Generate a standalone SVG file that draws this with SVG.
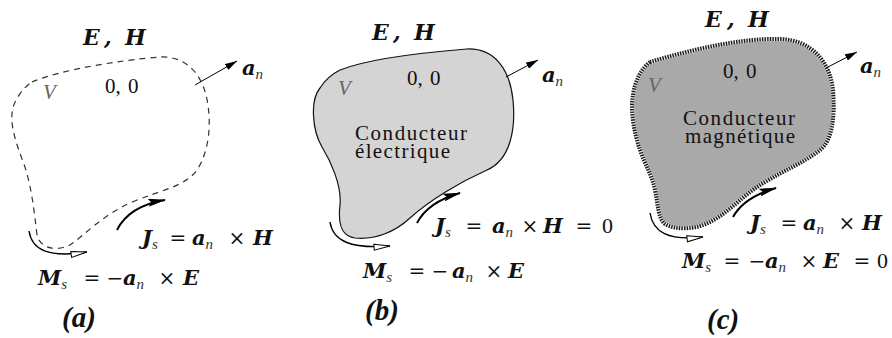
<svg xmlns="http://www.w3.org/2000/svg" width="892" height="338" viewBox="0 0 892 338">
<defs>
<style>
text{fill:#111;font-family:"Liberation Serif",serif}
.m{font-family:"DejaVu Serif",serif;font-weight:bold;font-style:italic;font-size:21px}
.eh{font-family:"DejaVu Serif",serif;font-weight:bold;font-style:italic;font-size:22px}
.sb{font-family:"Liberation Serif",serif;font-style:italic;font-size:15px;fill:#333}
.op{font-family:"DejaVu Serif",serif;font-size:20px}
.z{font-family:"Liberation Serif",serif;font-size:22px}
.num{font-size:21px}
.v{font-style:italic;font-size:21px;fill:#666}
.lbl{font-size:21px}
.cap{font-weight:bold;font-style:italic;font-size:29px}
.ln{fill:none;stroke:#000;stroke-width:2}
.thin{fill:none;stroke:#000;stroke-width:1}
.open{fill:none;stroke:#000;stroke-width:1.4}
</style>
<marker id="ah" viewBox="0 0 18 8" refX="17" refY="4" markerWidth="18" markerHeight="8" markerUnits="userSpaceOnUse" orient="auto">
<path d="M0,0 L18,4 L0,8 L3,4 z" fill="#000"/>
</marker>
<marker id="ao" viewBox="0 0 18 8" refX="17" refY="4" markerWidth="18" markerHeight="8" markerUnits="userSpaceOnUse" orient="auto">
<path d="M1,1 L17,4 L1,7 z" fill="#fff" stroke="#000" stroke-width="1"/>
</marker>
<marker id="as" viewBox="0 0 12 7" refX="12" refY="3.5" markerWidth="12" markerHeight="7" markerUnits="userSpaceOnUse" orient="auto">
<path d="M0,0 L12,3.5 L0,7 z" fill="#000"/>
</marker>
</defs>
<rect width="892" height="338" fill="#fff"/>

<g id="panel-a">
<path d="M32,82 C60,70 120,60 160,57 C185,56 200,72 206,95 C212,120 210,150 197,170 C185,187 160,190 130,203 C100,217 85,235 70,245 C55,252 40,248 37,235 C34,210 32,190 25,167 C15,140 5,115 18,97 C22,90 27,85 32,82 Z" fill="none" stroke="#333" stroke-width="1.2" stroke-dasharray="6 5"/>
<text class="eh" y="45"><tspan x="83">E</tspan><tspan x="104">,</tspan><tspan x="125">H</tspan></text>
<text class="num" y="93"><tspan x="105">0,</tspan><tspan x="128">0</tspan></text>
<text class="v" x="43" y="99">V</text>
<text y="75"><tspan class="m" x="242">a</tspan><tspan class="sb" dy="4">n</tspan></text>
<text y="245"><tspan class="m" x="142">J</tspan><tspan class="sb" dy="4">s</tspan><tspan class="op" x="178" dy="-4" text-anchor="middle">=</tspan><tspan class="m" x="192">a</tspan><tspan class="sb" dy="4">n</tspan><tspan class="op" x="237" dy="-4" text-anchor="middle">×</tspan><tspan class="m" x="253">H</tspan></text>
<text y="285"><tspan class="m" x="38">M</tspan><tspan class="sb" dy="4">s</tspan><tspan class="op" x="92" dy="-4" text-anchor="middle">=</tspan><tspan class="op" x="115" text-anchor="middle">−</tspan><tspan class="m" x="123">a</tspan><tspan class="sb" dy="4">n</tspan><tspan class="op" x="167" dy="-4" text-anchor="middle">×</tspan><tspan class="m" x="183">E</tspan></text>
<text class="cap" x="62" y="327">(a)</text>
</g>

<g id="panel-b">
<path d="M340,70 C370,58 430,52 467,49 C495,48 510,70 513,100 C516,130 510,160 487,170 C460,182 430,200 410,218 C395,232 375,240 355,238 C340,236 338,222 340,205 C342,185 330,160 322,147 C312,130 310,100 320,88 C325,80 332,74 340,70 Z" fill="#d4d4d4" stroke="#111" stroke-width="1.2"/>
<text class="eh" y="40"><tspan x="372">E</tspan><tspan x="393">,</tspan><tspan x="414">H</tspan></text>
<text class="num" y="85"><tspan x="407">0,</tspan><tspan x="430">0</tspan></text>
<text class="v" x="338" y="95">V</text>
<text y="82"><tspan class="m" x="542">a</tspan><tspan class="sb" dy="4">n</tspan></text>
<text class="lbl" x="355" y="140" textLength="112">Conducteur</text>
<text class="lbl" x="355" y="158" textLength="95">électrique</text>
<text y="233"><tspan class="m" x="435">J</tspan><tspan class="sb" dy="4">s</tspan><tspan class="op" x="474" dy="-4" text-anchor="middle">=</tspan><tspan class="m" x="492">a</tspan><tspan class="sb" dy="4">n</tspan><tspan class="op" x="530" dy="-4" text-anchor="middle">×</tspan><tspan class="m" x="543">H</tspan><tspan class="op" x="584" text-anchor="middle">=</tspan><tspan class="z" x="602">0</tspan></text>
<text y="278"><tspan class="m" x="363">M</tspan><tspan class="sb" dy="4">s</tspan><tspan class="op" x="417" dy="-4" text-anchor="middle">=</tspan><tspan class="op" x="440" text-anchor="middle">−</tspan><tspan class="m" x="452">a</tspan><tspan class="sb" dy="4">n</tspan><tspan class="op" x="494" dy="-4" text-anchor="middle">×</tspan><tspan class="m" x="508">E</tspan></text>
<text class="cap" x="365" y="320">(b)</text>
</g>

<g id="panel-c">
<path d="M650,62 C690,50 740,38 780,39 C812,40 830,62 833,90 C835,115 833,140 820,150 C805,162 785,170 765,182 C745,193 730,212 710,222 C695,230 675,230 665,224 C658,218 658,205 655,190 C652,175 645,165 640,150 C634,133 630,110 633,95 C635,80 642,68 650,62 Z" fill="#a9a9a9" stroke="#ececec" stroke-width="4"/>
<path d="M650,62 C690,50 740,38 780,39 C812,40 830,62 833,90 C835,115 833,140 820,150 C805,162 785,170 765,182 C745,193 730,212 710,222 C695,230 675,230 665,224 C658,218 658,205 655,190 C652,175 645,165 640,150 C634,133 630,110 633,95 C635,80 642,68 650,62 Z" fill="none" stroke="#1a1a1a" stroke-width="4" stroke-dasharray="1.4 1.2"/>
<text class="eh" y="27"><tspan x="705">E</tspan><tspan x="727">,</tspan><tspan x="748">H</tspan></text>
<text class="num" y="78"><tspan x="723">0,</tspan><tspan x="746">0</tspan></text>
<text class="v" x="648" y="92">V</text>
<text y="73"><tspan class="m" x="860">a</tspan><tspan class="sb" dy="4">n</tspan></text>
<text class="lbl" x="683" y="125" textLength="112">Conducteur</text>
<text class="lbl" x="685" y="143" textLength="110">magnétique</text>
<text y="230"><tspan class="m" x="750">J</tspan><tspan class="sb" dy="4">s</tspan><tspan class="op" x="789" dy="-4" text-anchor="middle">=</tspan><tspan class="m" x="803">a</tspan><tspan class="sb" dy="4">n</tspan><tspan class="op" x="847" dy="-4" text-anchor="middle">×</tspan><tspan class="m" x="862">H</tspan></text>
<text y="268"><tspan class="m" x="682">M</tspan><tspan class="sb" dy="4">s</tspan><tspan class="op" x="732" dy="-4" text-anchor="middle">=</tspan><tspan class="op" x="757" text-anchor="middle">−</tspan><tspan class="m" x="765">a</tspan><tspan class="sb" dy="4">n</tspan><tspan class="op" x="809" dy="-4" text-anchor="middle">×</tspan><tspan class="m" x="823">E</tspan><tspan class="op" x="862" text-anchor="middle">=</tspan><tspan class="z" x="877">0</tspan></text>
<text class="cap" x="707" y="329">(c)</text>
</g>

<g id="connectors">
<path class="thin" d="M195,85 L237,61" marker-end="url(#as)"/>
<path class="ln" d="M117,230 Q129,206 165,200" marker-end="url(#ah)"/>
<path class="open" d="M29,231 C32,250 48,258 87,252" marker-end="url(#ao)"/>
<path class="thin" d="M506,77 L538,60" marker-end="url(#as)"/>
<path class="ln" d="M417,223 Q428,202 460,193" marker-end="url(#ah)"/>
<path class="open" d="M330,222 C333,241 350,249 390,246" marker-end="url(#ao)"/>
<path class="thin" d="M826,68 L857,52" marker-end="url(#as)"/>
<path class="ln" d="M733,217 Q744,197 776,188" marker-end="url(#ah)"/>
<path class="open" d="M650,213 C653,232 668,241 703,237" marker-end="url(#ao)"/>
</g>
</svg>
